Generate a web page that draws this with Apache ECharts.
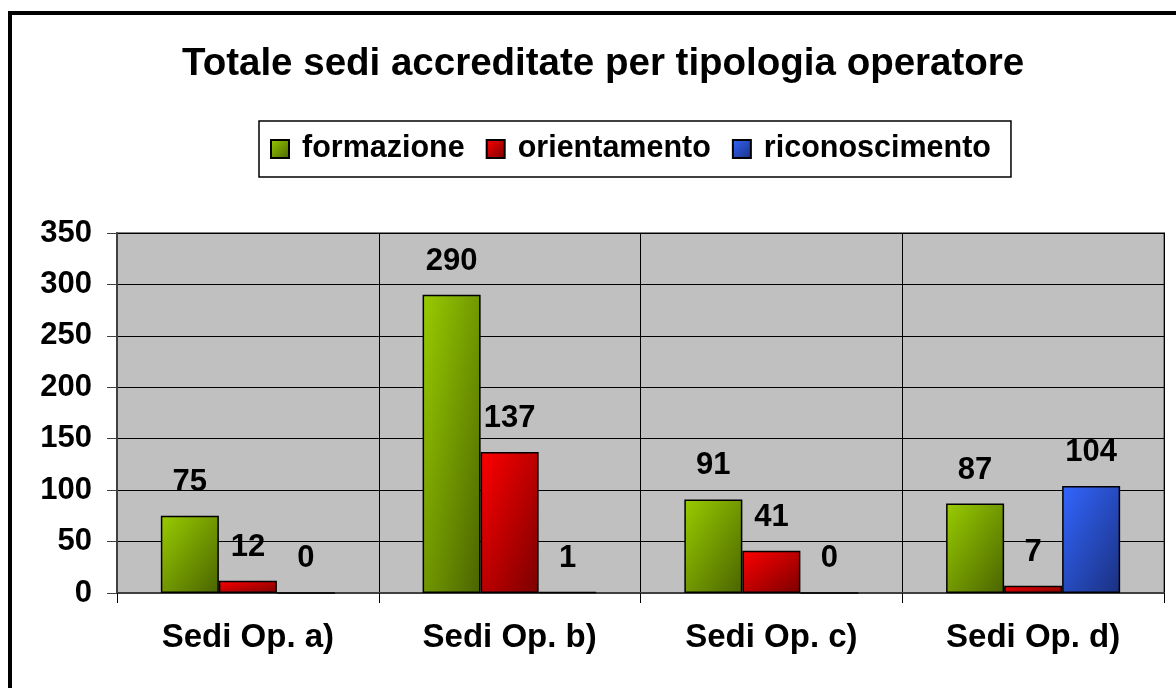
<!DOCTYPE html>
<html>
<head>
<meta charset="utf-8">
<script src="https://cdn.jsdelivr.net/npm/echarts@6/dist/echarts.min.js"></script>
<style>
html,body{margin:0;padding:0;background:#fff;}
#chart{width:1176px;height:688px;}
</style>
</head>
<body>
<div id="chart"></div>
<script>
const titleText = 'Totale sedi accreditate per tipologia operatore';
const categories = ['Sedi Op. a)', 'Sedi Op. b)', 'Sedi Op. c)', 'Sedi Op. d)'];
const seriesNames = ['formazione', 'orientamento', 'riconoscimento'];
const formazione = [75, 290, 91, 87];
const orientamento = [12, 137, 41, 7];
const riconoscimento = [0, 1, 0, 104];
const yTicks = [0, 50, 100, 150, 200, 250, 300, 350];

const FONT = '"Liberation Sans", Arial, sans-serif';
const colors = [
  ['#99CC00', '#4A6400'],
  ['#FF0000', '#7A0000'],
  ['#3366FF', '#1A3080']
];
const values = [formazione, orientamento, riconoscimento];

const GRID = { left: 117, right: 12, top: 233, bottom: 95 };
const W = 1176, H = 688;
const plotH = H - GRID.top - GRID.bottom;
const catW = (W - GRID.left - GRID.right) / categories.length;
const CAT_GAP = 0.335;
const barW = catW * (1 - CAT_GAP) / 3;
const yMax = yTicks[yTicks.length - 1];

// Excel-like diagonal gradient: iso-lines parallel to the box's anti-diagonal
function diagGrad(c, v) {
  const h = Math.max(v * plotH / yMax, 0.5), w = barW;
  const d = h * h + w * w;
  return new echarts.graphic.LinearGradient(0, 0, 2 * h * h / d, 2 * w * w / d, [
    { offset: 0, color: c[0] }, { offset: 1, color: c[1] }
  ]);
}
const squareGrad = c => new echarts.graphic.LinearGradient(0, 0, 1, 1, [
  { offset: 0, color: c[0] }, { offset: 1, color: c[1] }
]);

const chart = echarts.init(document.getElementById('chart'), null, { renderer: 'canvas' });
chart.setOption({
  backgroundColor: '#ffffff',
  animation: false,
  title: {
    text: titleText,
    left: 177,
    top: 40,
    textStyle: { fontFamily: FONT, fontWeight: 'bold', fontSize: 38.5, color: '#000' }
  },
  legend: {
    data: seriesNames,
    left: 259,
    top: 121,
    padding: [11, 20, 11, 11],
    borderColor: '#000',
    borderWidth: 1.5,
    itemWidth: 18,
    itemHeight: 18,
    itemGap: 21,
    icon: 'rect',
    textStyle: { fontFamily: FONT, fontWeight: 'bold', fontSize: 30.5, color: '#000', lineHeight: 34, padding: [0, 0, 0, 8] }
  },
  grid: {
    left: GRID.left, right: GRID.right, top: GRID.top, bottom: GRID.bottom,
    show: true, borderColor: '#808080', borderWidth: 2, backgroundColor: '#C0C0C0'
  },
  xAxis: {
    type: 'category',
    data: categories,
    boundaryGap: true,
    axisLine: { lineStyle: { color: '#404040', width: 2 } },
    axisTick: { show: true, length: 10, lineStyle: { color: '#000', width: 1 } },
    splitLine: { show: true, lineStyle: { color: '#000', width: 1 } },
    axisLabel: { fontFamily: FONT, fontWeight: 'bold', fontSize: 33, color: '#000', margin: 28 }
  },
  yAxis: {
    type: 'value',
    min: yTicks[0],
    max: yMax,
    interval: 50,
    axisLine: { show: true, lineStyle: { color: '#404040', width: 2 } },
    axisTick: { show: true, length: 10, lineStyle: { color: '#404040', width: 1 } },
    splitLine: { show: true, lineStyle: { color: '#000', width: 1 } },
    axisLabel: { fontFamily: FONT, fontWeight: 'bold', fontSize: 31, color: '#000', margin: 25 }
  },
  series: seriesNames.map((name, i) => ({
    name: name,
    type: 'bar',
    data: values[i].map(v => ({ value: v, itemStyle: { color: diagGrad(colors[i], v) } })),
    barGap: '0%',
    barCategoryGap: (CAT_GAP * 100) + '%',
    itemStyle: { color: squareGrad(colors[i]), borderColor: '#000', borderWidth: 1.5 },
    label: {
      show: true, position: 'top', distance: 18,
      fontFamily: FONT, fontWeight: 'bold', fontSize: 31, color: '#000'
    }
  })),
  graphic: [{
    type: 'rect',
    shape: { x: 10, y: 13, width: 1300, height: 800 },
    style: { fill: null, stroke: '#000', lineWidth: 4 },
    silent: true
  }]
});
</script>
</body>
</html>
